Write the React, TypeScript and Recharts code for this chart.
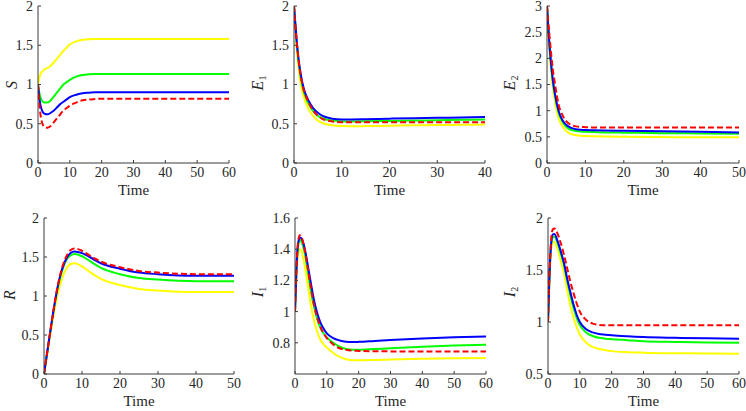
import React from 'react';
import { LineChart, Line, XAxis, YAxis } from 'recharts';

// ---------- S ----------
const S_T = [0, 0.5, 1, 1.5, 2, 3, 4, 5, 6, 7, 8, 9, 10, 12, 14, 16, 18, 20, 25, 30, 40, 50, 60];
const S_YELLOW = [1.0, 1.1, 1.15, 1.17, 1.19, 1.21, 1.24, 1.28, 1.33, 1.38, 1.43, 1.47, 1.51, 1.55, 1.57, 1.578, 1.58, 1.58, 1.58, 1.58, 1.58, 1.58, 1.58];
const S_GREEN = [1.0, 0.88, 0.81, 0.78, 0.77, 0.77, 0.8, 0.85, 0.9, 0.95, 1.0, 1.03, 1.06, 1.1, 1.12, 1.13, 1.135, 1.135, 1.135, 1.135, 1.135, 1.135, 1.135];
const S_BLUE = [1.0, 0.8, 0.7, 0.65, 0.63, 0.62, 0.64, 0.67, 0.71, 0.75, 0.78, 0.81, 0.84, 0.87, 0.89, 0.895, 0.9, 0.9, 0.9, 0.9, 0.9, 0.9, 0.9];
const S_RED = [1.0, 0.72, 0.56, 0.49, 0.46, 0.45, 0.47, 0.52, 0.57, 0.62, 0.67, 0.7, 0.73, 0.77, 0.8, 0.81, 0.815, 0.82, 0.82, 0.82, 0.82, 0.82, 0.82];

// ---------- E1 ----------
const E1_T = [0, 0.5, 1, 1.5, 2, 3, 4, 5, 6, 7, 8, 10, 12, 15, 20, 25, 30, 35, 40];
const E1_YELLOW = [2.0, 1.5, 1.18, 0.98, 0.85, 0.69, 0.6, 0.54, 0.51, 0.49, 0.48, 0.47, 0.468, 0.47, 0.475, 0.48, 0.483, 0.486, 0.49];
const E1_GREEN = [2.0, 1.58, 1.27, 1.06, 0.92, 0.76, 0.66, 0.6, 0.57, 0.55, 0.54, 0.53, 0.53, 0.532, 0.536, 0.54, 0.545, 0.55, 0.553];
const E1_BLUE = [2.0, 1.6, 1.3, 1.1, 0.96, 0.8, 0.7, 0.64, 0.6, 0.58, 0.565, 0.555, 0.555, 0.558, 0.565, 0.57, 0.575, 0.58, 0.585];
const E1_RED = [2.0, 1.6, 1.29, 1.08, 0.94, 0.78, 0.67, 0.6, 0.56, 0.54, 0.53, 0.52, 0.52, 0.52, 0.52, 0.52, 0.52, 0.52, 0.52];

// ---------- E2 ----------
const E2_T = [0, 0.5, 1, 1.5, 2, 3, 4, 5, 6, 7, 8, 10, 12, 15, 20, 30, 40, 50];
const E2_YELLOW = [3.0, 2.3, 1.8, 1.45, 1.2, 0.86, 0.7, 0.61, 0.56, 0.54, 0.525, 0.515, 0.51, 0.505, 0.5, 0.495, 0.49, 0.49];
const E2_GREEN = [3.0, 2.38, 1.92, 1.57, 1.32, 0.97, 0.79, 0.69, 0.64, 0.62, 0.605, 0.595, 0.59, 0.585, 0.58, 0.57, 0.565, 0.56];
const E2_BLUE = [3.0, 2.4, 1.95, 1.6, 1.35, 1.0, 0.82, 0.73, 0.68, 0.655, 0.64, 0.63, 0.625, 0.62, 0.615, 0.605, 0.595, 0.585];
const E2_RED = [3.0, 2.55, 2.15, 1.8, 1.55, 1.12, 0.92, 0.8, 0.74, 0.71, 0.695, 0.685, 0.68, 0.68, 0.68, 0.68, 0.68, 0.68];

// ---------- R ----------
const R_T = [0, 1, 2, 3, 4, 5, 6, 7, 8, 10, 12, 15, 20, 25, 30, 40, 50];
const R_YELLOW = [0, 0.3, 0.6, 0.88, 1.1, 1.26, 1.36, 1.41, 1.42, 1.38, 1.31, 1.22, 1.14, 1.09, 1.07, 1.05, 1.05];
const R_GREEN = [0, 0.33, 0.65, 0.95, 1.19, 1.36, 1.47, 1.52, 1.54, 1.51, 1.45, 1.36, 1.28, 1.23, 1.21, 1.19, 1.19];
const R_BLUE = [0, 0.33, 0.66, 0.96, 1.21, 1.38, 1.49, 1.55, 1.57, 1.55, 1.5, 1.42, 1.35, 1.3, 1.28, 1.26, 1.26];
const R_RED = [0, 0.33, 0.66, 0.97, 1.22, 1.4, 1.52, 1.59, 1.61, 1.58, 1.52, 1.44, 1.37, 1.32, 1.3, 1.28, 1.28];

// ---------- I1 ----------
const I1_T = [0, 0.5, 1, 1.5, 2, 3, 4, 5, 6, 7, 8, 9, 10, 12, 14, 16, 18, 20, 25, 30, 40, 50, 60];
const I1_YELLOW = [1.0, 1.25, 1.37, 1.4, 1.39, 1.3, 1.17, 1.04, 0.94, 0.87, 0.82, 0.79, 0.77, 0.735, 0.71, 0.695, 0.688, 0.688, 0.69, 0.693, 0.698, 0.701, 0.703];
const I1_GREEN = [1.0, 1.28, 1.42, 1.46, 1.45, 1.38, 1.26, 1.13, 1.03, 0.95, 0.895, 0.86, 0.835, 0.8, 0.775, 0.76, 0.755, 0.755, 0.76, 0.765, 0.775, 0.783, 0.788];
const I1_BLUE = [1.0, 1.3, 1.44, 1.475, 1.47, 1.41, 1.3, 1.18, 1.07, 0.99, 0.93, 0.89, 0.86, 0.83, 0.815, 0.807, 0.805, 0.806, 0.812, 0.818, 0.828, 0.835, 0.84];
const I1_RED = [1.0, 1.3, 1.45, 1.49, 1.48, 1.4, 1.28, 1.15, 1.04, 0.96, 0.9, 0.86, 0.83, 0.79, 0.765, 0.755, 0.75, 0.748, 0.746, 0.745, 0.745, 0.745, 0.745];

// ---------- I2 ----------
const I2_T = [0, 0.5, 1, 1.5, 2, 3, 4, 5, 6, 7, 8, 9, 10, 12, 14, 16, 18, 20, 25, 30, 40, 50, 60];
const I2_YELLOW = [1.0, 1.45, 1.7, 1.77, 1.77, 1.7, 1.59, 1.47, 1.31, 1.16, 1.04, 0.95, 0.88, 0.8, 0.76, 0.74, 0.73, 0.72, 0.71, 0.705, 0.7, 0.698, 0.695];
const I2_GREEN = [1.0, 1.47, 1.74, 1.815, 1.82, 1.76, 1.66, 1.55, 1.4, 1.26, 1.14, 1.04, 0.97, 0.9, 0.865, 0.848, 0.84, 0.835, 0.825, 0.815, 0.808, 0.803, 0.8];
const I2_BLUE = [1.0, 1.48, 1.76, 1.84, 1.845, 1.78, 1.68, 1.57, 1.42, 1.29, 1.17, 1.07, 1.0, 0.93, 0.9, 0.885, 0.878, 0.872, 0.862, 0.855, 0.848, 0.843, 0.84];
const I2_RED = [1.0, 1.5, 1.8, 1.89, 1.9, 1.85, 1.76, 1.65, 1.52, 1.39, 1.28, 1.18, 1.1, 1.02, 0.985, 0.972, 0.968, 0.968, 0.968, 0.968, 0.968, 0.968, 0.968];

// ---------- ticks ----------
const X_TICKS_60 = [0, 10, 20, 30, 40, 50, 60];
const X_TICKS_50 = [0, 10, 20, 30, 40, 50];
const X_TICKS_40 = [0, 10, 20, 30, 40];
const Y_TICKS_2 = [0, 0.5, 1, 1.5, 2];
const Y_TICKS_3 = [0, 0.5, 1, 1.5, 2, 2.5, 3];
const Y_TICKS_I1 = [0.8, 1, 1.2, 1.4, 1.6];
const Y_TICKS_I2 = [0.5, 1, 1.5, 2];

const FONT = "'Liberation Serif', 'Times New Roman', serif";
const AXIS = '#3a3a3a';
const TEXT = '#262626';

type PanelProps = {
  box: { x: number; y: number; w: number; h: number };
  t: number[];
  yellow: number[];
  green: number[];
  blue: number[];
  red: number[];
  xDomain: [number, number];
  xTicks: number[];
  yDomain: [number, number];
  yTicks: number[];
};

function Panel({ box, t, yellow, green, blue, red, xDomain, xTicks, yDomain, yTicks }: PanelProps) {
  const data = t.map((tt, i) => ({ t: tt, y: yellow[i], g: green[i], b: blue[i], r: red[i] }));
  const tickStyle = { fill: TEXT, fontSize: 14, style: { fontFamily: FONT } };
  return (
    <div style={{ position: 'absolute', left: box.x - 60, top: box.y - 10, fontFamily: FONT }}>
      <LineChart width={box.w + 70} height={box.h + 50} data={data} margin={{ top: 10, right: 10, left: 0, bottom: 0 }} style={{ fontFamily: FONT }}>
        <XAxis
          xAxisId="b"
          dataKey="t"
          type="number"
          domain={xDomain}
          ticks={xTicks}
          allowDataOverflow
          height={40}
          tickSize={-3}
          tickMargin={7}
          stroke={AXIS}
          tick={tickStyle}
          label={{ value: 'Time', position: 'insideBottom', offset: 8, fill: TEXT, fontSize: 15, style: { fontFamily: FONT } }}
        />
        <XAxis
          xAxisId="t"
          dataKey="t"
          orientation="top"
          type="number"
          domain={xDomain}
          ticks={xTicks}
          allowDataOverflow
          height={0}
          tickSize={-3}
          tick={false}
          stroke={AXIS}
        />
        <YAxis
          yAxisId="l"
          type="number"
          domain={yDomain}
          ticks={yTicks}
          allowDataOverflow
          width={60}
          tickSize={-3}
          tickMargin={8}
          stroke={AXIS}
          tick={tickStyle}
        />
        <YAxis
          yAxisId="r"
          orientation="right"
          type="number"
          domain={yDomain}
          ticks={yTicks}
          allowDataOverflow
          width={0}
          tickSize={-3}
          tick={false}
          stroke={AXIS}
        />
        <Line xAxisId="b" yAxisId="l" type="monotone" dataKey="y" stroke="#ffff00" strokeWidth={2} dot={false} isAnimationActive={false} />
        <Line xAxisId="b" yAxisId="l" type="monotone" dataKey="g" stroke="#00ff00" strokeWidth={2} dot={false} isAnimationActive={false} />
        <Line xAxisId="b" yAxisId="l" type="monotone" dataKey="b" stroke="#0000ff" strokeWidth={2} dot={false} isAnimationActive={false} />
        <Line xAxisId="b" yAxisId="l" type="monotone" dataKey="r" stroke="#ff0000" strokeWidth={2} strokeDasharray="6 3" dot={false} isAnimationActive={false} />
      </LineChart>
    </div>
  );
}

function YLab({ cx, cy, main, sub }: { cx: number; cy: number; main: string; sub?: string }) {
  return (
    <div
      style={{
        position: 'absolute',
        left: cx - 30,
        top: cy - 10,
        width: 60,
        height: 20,
        lineHeight: '20px',
        textAlign: 'center',
        transform: 'rotate(-90deg)',
        fontFamily: FONT,
        fontSize: 16,
        color: TEXT,
        whiteSpace: 'nowrap',
      }}
    >
      <span style={{ fontStyle: 'italic' }}>{main}</span>
      {sub ? <span style={{ fontSize: 10, position: 'relative', top: 3 }}>{sub}</span> : null}
    </div>
  );
}

export default function App() {
  return (
    <div style={{ position: 'absolute', left: 0, top: 0, width: 746, height: 411, background: '#fff', overflow: 'hidden', fontFamily: FONT }}>
      <Panel box={{ x: 38, y: 6, w: 191, h: 157 }} t={S_T} yellow={S_YELLOW} green={S_GREEN} blue={S_BLUE} red={S_RED} xDomain={[0, 60]} xTicks={X_TICKS_60} yDomain={[0, 2]} yTicks={Y_TICKS_2} />
      <Panel box={{ x: 294, y: 6, w: 191, h: 157 }} t={E1_T} yellow={E1_YELLOW} green={E1_GREEN} blue={E1_BLUE} red={E1_RED} xDomain={[0, 40]} xTicks={X_TICKS_40} yDomain={[0, 2]} yTicks={Y_TICKS_2} />
      <Panel box={{ x: 547, y: 6, w: 192, h: 157 }} t={E2_T} yellow={E2_YELLOW} green={E2_GREEN} blue={E2_BLUE} red={E2_RED} xDomain={[0, 50]} xTicks={X_TICKS_50} yDomain={[0, 3]} yTicks={Y_TICKS_3} />
      <Panel box={{ x: 44, y: 218, w: 190, h: 156 }} t={R_T} yellow={R_YELLOW} green={R_GREEN} blue={R_BLUE} red={R_RED} xDomain={[0, 50]} xTicks={X_TICKS_50} yDomain={[0, 2]} yTicks={Y_TICKS_2} />
      <Panel box={{ x: 295, y: 218, w: 191, h: 156 }} t={I1_T} yellow={I1_YELLOW} green={I1_GREEN} blue={I1_BLUE} red={I1_RED} xDomain={[0, 60]} xTicks={X_TICKS_60} yDomain={[0.6, 1.6]} yTicks={Y_TICKS_I1} />
      <Panel box={{ x: 548, y: 218, w: 191, h: 156 }} t={I2_T} yellow={I2_YELLOW} green={I2_GREEN} blue={I2_BLUE} red={I2_RED} xDomain={[0, 60]} xTicks={X_TICKS_60} yDomain={[0.5, 2]} yTicks={Y_TICKS_I2} />
      <YLab cx={12} cy={85} main="S" />
      <YLab cx={258} cy={83} main="E" sub="1" />
      <YLab cx={510} cy={83} main="E" sub="2" />
      <YLab cx={10} cy={295} main="R" />
      <YLab cx={258} cy={292} main="I" sub="1" />
      <YLab cx={510} cy={292} main="I" sub="2" />
    </div>
  );
}
